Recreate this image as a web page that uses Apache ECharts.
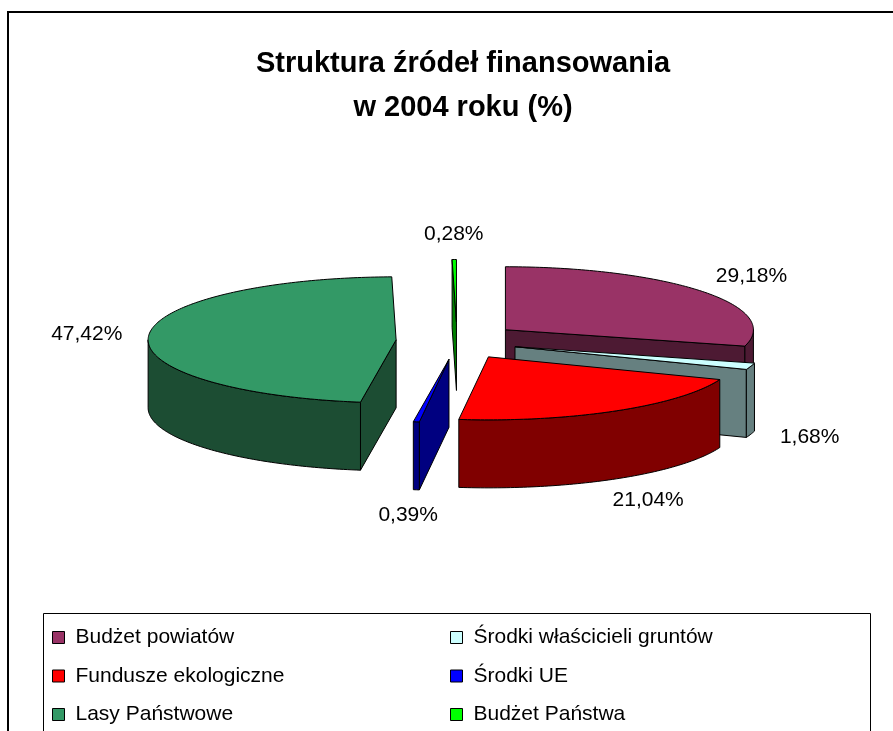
<!DOCTYPE html>
<html lang="pl">
<head>
<meta charset="UTF-8">
<title>Struktura źródeł finansowania w 2004 roku</title>
<script src="https://cdn.jsdelivr.net/npm/echarts@6/dist/echarts.min.js"></script>
<style>
  html, body { margin: 0; padding: 0; background: #fff; }
  #chart { width: 893px; height: 731px; }
</style>
</head>
<body>
<div id="chart"></div>
<script>
// dane z wykresu (%)
var categories = ['Budżet powiatów', 'Środki właścicieli gruntów', 'Fundusze ekologiczne', 'Środki UE', 'Lasy Państwowe', 'Budżet Państwa'];
var shares = [29.18, 1.68, 21.04, 0.39, 47.42, 0.28];
var topColors = ['#993366', '#ccffff', '#ff0000', '#0000ff', '#339966', '#00ff00'];
var sideColors = ['#4d1a33', '#668080', '#800000', '#000080', '#1c4d33', '#008000'];

var FONT = '"Liberation Sans", Arial, sans-serif';

// geometria "3D" tortu
var CX = 457, CY = 341, RX = 248, RY = 63, DEPTH = 68, EXP_X = 61, EXP_Y = 18.5;

var total = shares.reduce(function (a, b) { return a + b; }, 0);
var starts = [];
var acc = 0;
shares.forEach(function (v) { starts.push(acc); acc += v; });

function toAngle(v) { return v / total * Math.PI * 2; }

function pt(cx, cy, a) {
  return [cx + RX * Math.sin(a), cy - RY * Math.cos(a)];
}

function arcPoints(cx, cy, a0, a1, dy) {
  var n = Math.max(2, Math.ceil((a1 - a0) / (Math.PI / 180)));
  var pts = [];
  for (var k = 0; k <= n; k++) {
    var p = pt(cx, cy, a0 + (a1 - a0) * k / n);
    pts.push([p[0], p[1] + dy]);
  }
  return pts;
}

function fmt(v) { return v.toFixed(2).replace('.', ',') + '%'; }

function renderSlice(params, api) {
  var i = params.seriesIndex;
  var a0 = toAngle(api.value(0));
  var a1 = toAngle(api.value(0) + api.value(1));
  var m = (a0 + a1) / 2;
  var cx = CX + EXP_X * Math.sin(m);
  var cy = CY - EXP_Y * Math.cos(m);
  var line = { stroke: '#000', lineWidth: 1, lineJoin: 'round' };
  var side = Object.assign({ fill: sideColors[i] }, line);
  var children = [];

  function wall(a) {
    var p = pt(cx, cy, a);
    return {
      type: 'polygon', z2: 1,
      shape: { points: [[cx, cy], p, [p[0], p[1] + DEPTH], [cx, cy + DEPTH]] },
      style: side
    };
  }
  if (Math.sin(a0) < 0) children.push(wall(a0));
  if (Math.sin(a1) > 0) children.push(wall(a1));

  // przednia ściana boczna
  var f0 = Math.max(a0, Math.PI / 2), f1 = Math.min(a1, Math.PI * 1.5);
  if (f1 > f0) {
    var topArc = arcPoints(cx, cy, f0, f1, 0);
    var botArc = arcPoints(cx, cy, f0, f1, DEPTH).reverse();
    children.push({
      type: 'polygon', z2: 2,
      shape: { points: topArc.concat(botArc) },
      style: side
    });
  }

  // wierzch
  children.push({
    type: 'polygon', z2: 3,
    shape: { points: [[cx, cy]].concat(arcPoints(cx, cy, a0, a1, 0)) },
    style: Object.assign({ fill: topColors[i] }, line)
  });

  // etykieta
  var front = Math.min(1, Math.max(0, -3 * Math.cos(m)));
  children.push({
    type: 'text', z2: 10,
    x: cx + 1.25 * RX * Math.sin(m),
    y: cy - 1.4 * RY * Math.cos(m) + DEPTH * front,
    style: {
      text: fmt(api.value(1)), fill: '#000', fontSize: 21, fontFamily: FONT,
      align: 'center', verticalAlign: 'middle'
    }
  });

  return { type: 'group', children: children };
}

// kolejność rysowania: od tyłu do przodu
var depthKey = shares.map(function (v, i) {
  return -Math.cos(toAngle(starts[i] + v / 2));
});
var order = depthKey.map(function (d, i) { return i; }).sort(function (a, b) { return depthKey[a] - depthKey[b]; });
var rank = [];
order.forEach(function (idx, r) { rank[idx] = r; });

var series = categories.map(function (name, i) {
  return {
    type: 'custom',
    name: name,
    coordinateSystem: 'none',
    z: 2 + rank[i],
    silent: true,
    animation: false,
    itemStyle: { color: topColors[i] },
    data: [[starts[i], shares[i]]],
    renderItem: renderSlice
  };
});

var legendBase = {
  orient: 'vertical',
  top: 627,
  height: 140,
  padding: 0,
  itemWidth: 12,
  itemHeight: 12,
  itemGap: 17.5,
  icon: 'rect',
  selectedMode: false,
  itemStyle: { borderColor: '#000', borderWidth: 1 },
  textStyle: { fontSize: 21, lineHeight: 20, color: '#000', fontFamily: FONT, padding: [0, 0, 0, 6] }
};

var chart = echarts.init(document.getElementById('chart'));
chart.setOption({
  backgroundColor: '#fff',
  animation: false,
  title: {
    text: 'Struktura źródeł finansowania\nw 2004 roku (%)',
    left: 458,
    top: 37,
    textAlign: 'center',
    textStyle: { fontSize: 29, fontWeight: 'bold', lineHeight: 44, color: '#000', fontFamily: FONT }
  },
  legend: [
    Object.assign({}, legendBase, { left: 52, data: [categories[0], categories[2], categories[4]] }),
    Object.assign({}, legendBase, { left: 450, data: [categories[1], categories[3], categories[5]] })
  ],
  graphic: [
    { type: 'polyline', shape: { points: [[8, 740], [8, 12], [900, 12]] }, style: { stroke: '#000', lineWidth: 2, fill: null } },
    { type: 'rect', shape: { x: 43.5, y: 613.5, width: 827, height: 130 }, style: { stroke: '#000', lineWidth: 1, fill: null } }
  ],
  series: series
});
</script>
</body>
</html>
